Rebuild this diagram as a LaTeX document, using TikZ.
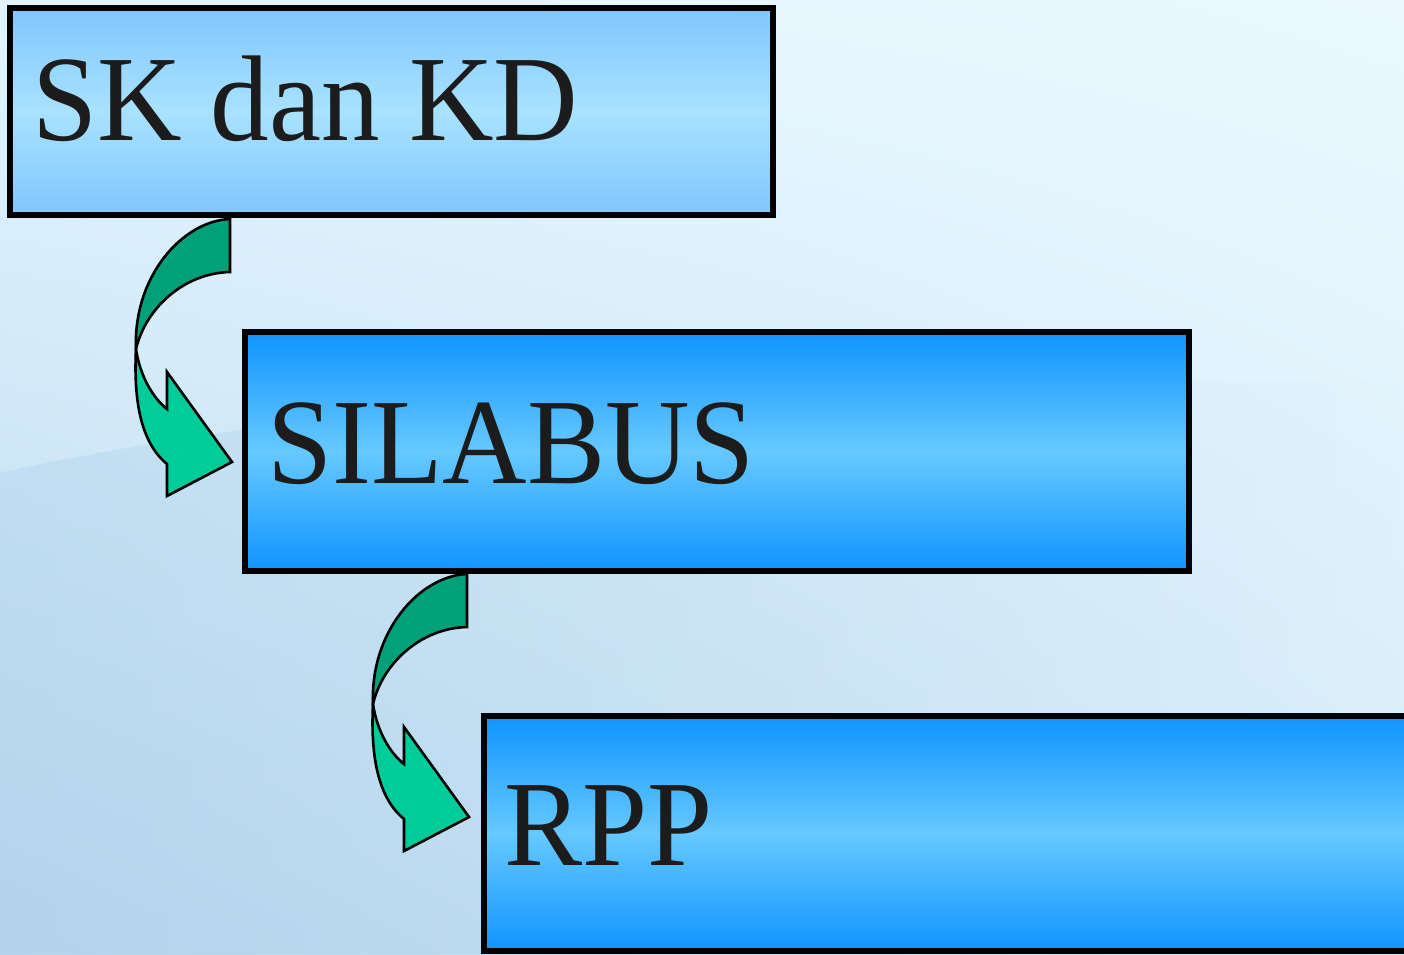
\documentclass[tikz,border=0pt]{standalone}
\usepackage{fontspec}
\setmainfont{Liberation Serif}
\usetikzlibrary{shadings,fadings}
\definecolor{bgUL}{HTML}{E2F5FE}
\definecolor{bgUR}{HTML}{EBF9FF}
\definecolor{bgLL}{HTML}{B8D7EE}
\definecolor{bgLR}{HTML}{D6ECF9}
\definecolor{waveC}{HTML}{A9CDE8}
\definecolor{lbEdge}{HTML}{80C6FD}
\definecolor{lbMid}{HTML}{A8E2FF}
\definecolor{dbEdge}{HTML}{1094FF}
\definecolor{dbMid}{HTML}{66C9FF}
\definecolor{arrDark}{HTML}{00A078}
\definecolor{arrLight}{HTML}{00CC99}
\definecolor{txt}{HTML}{1C1C1C}
\tikzset{
  boxbase/.style={draw=black, line width=5.8pt, outer sep=0pt, inner sep=0pt, anchor=north west},
  lightbox/.style={boxbase, top color=lbEdge, bottom color=lbEdge, middle color=lbMid},
  darkbox/.style={boxbase, top color=dbEdge, bottom color=dbEdge, middle color=dbMid},
  boxtext/.style={anchor=base west, inner sep=0pt, outer sep=0pt, text=txt, xscale=0.96,
    font=\fontsize{122}{140}\selectfont},
  arrowpart/.style={draw=black, line width=2.6pt, line join=miter},
  pics/turnarrow/.style={code={
    \filldraw[arrowpart, fill=arrLight] (-94,130) .. controls (-97,190) and (-86,226) .. (-63,245)
      -- (-63,277) -- (2,243) -- (-63,153) -- (-63,190)
      .. controls (-76,180) and (-90,158) .. cycle;
    \filldraw[arrowpart, fill=arrDark] (-94,130) .. controls (-97,58) and (-48,2) .. (0,0)
      -- (0,53) .. controls (-45,54) and (-84,88) .. cycle;
  }}
}
\begin{document}
\begin{tikzpicture}[x=1pt,y=-1pt]
\useasboundingbox (0,0) rectangle (1404,954);
% background
\shade[upper left=bgUL, upper right=bgUR, lower left=bgLL, lower right=bgLR]
  (0,0) rectangle (1404,954);
\fill[waveC, opacity=0.35, path fading=east] (0,472) .. controls (150,440) and (380,400) .. (760,385)
  -- (1404,380) -- (1404,954) -- (0,954) -- cycle;
% boxes
\node[lightbox, minimum width=763pt, minimum height=207pt] (b1) at (10,8) {};
\node[darkbox, minimum width=944pt, minimum height=239pt] (b2) at (245,332) {};
\node[darkbox, minimum width=1100pt, minimum height=235pt] (b3) at (484,716) {};
% texts
\node[boxtext] (t1) at ([shift={(22,132)}]b1.north west) {SK dan KD};
\node[boxtext] (t2) at ([shift={(22,151)}]b2.north west) {SILABUS};
\node[boxtext] (t3) at ([shift={(20,149)}]b3.north west) {RPP};
% arrows
\pic at ([shift={(220,4)}]b1.south west) {turnarrow};
\pic at ([shift={(222,3)}]b2.south west) {turnarrow};
\end{tikzpicture}
\end{document}
